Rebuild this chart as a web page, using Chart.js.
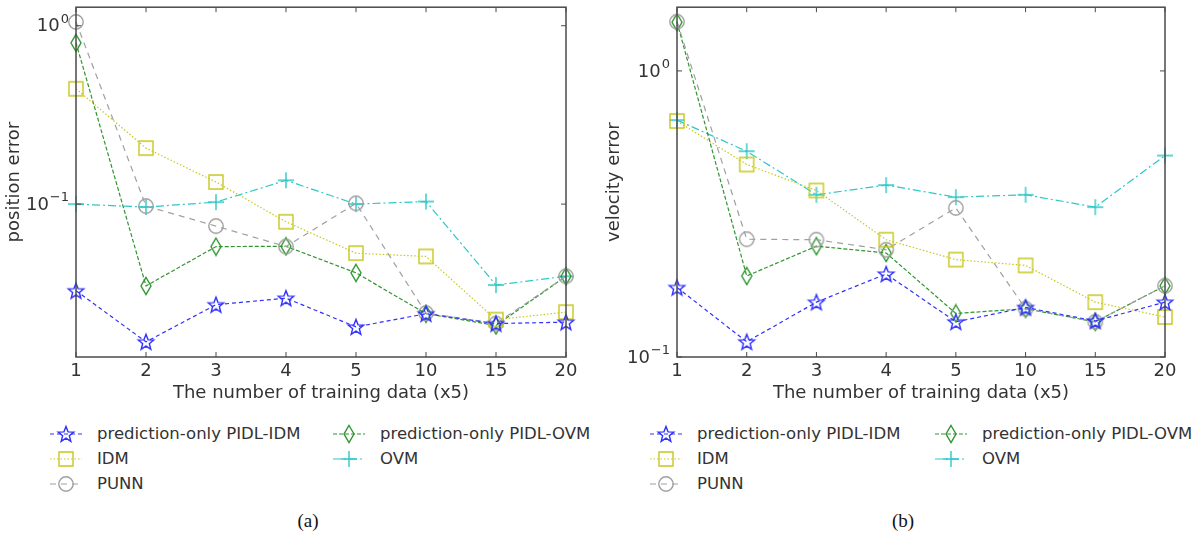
<!DOCTYPE html>
<html>
<head>
<meta charset="utf-8">
<script src="https://cdn.jsdelivr.net/npm/chart.js@4/dist/chart.umd.min.js"></script>
<style>
  body { margin: 0; background: #fff; width: 1203px; height: 549px; overflow: hidden; position: relative; font-family: "DejaVu Sans", sans-serif; }
  .panel { position: absolute; top: 0; width: 600px; height: 405px; }
  .leg { position: absolute; font-size: 16.5px; color: #333; white-space: nowrap; }
  .leg canvas { position: absolute; left: 0; top: 0; }
  .leg span { position: absolute; top: 0px; }
  .cap { position: absolute; top: 510px; width: 60px; text-align: center; font-family: "Liberation Serif", serif; font-size: 19px; color: #111; }
</style>
</head>
<body>
<div class="panel" style="left:0"><canvas id="posChart"></canvas></div>
<div class="panel" style="left:600px"><canvas id="velChart"></canvas></div>
<div id="legends"></div>
<div class="cap" style="left:278px">(a)</div>
<div class="cap" style="left:873px">(b)</div>
<script>
/* 데이터 */
var categories = ['1', '2', '3', '4', '5', '10', '15', '20'];
var seriesNames = ['prediction-only PIDL-IDM', 'IDM', 'PUNN', 'prediction-only PIDL-OVM', 'OVM'];

/* position error */
var posPidlIdm = [0.0327, 0.0169, 0.0273, 0.0297, 0.0205, 0.0243, 0.0214, 0.0218];
var posIdm     = [0.443, 0.206, 0.133, 0.0796, 0.0531, 0.0509, 0.0225, 0.0248];
var posPunn    = [1.05, 0.0975, 0.0753, 0.0578, 0.101, 0.0245, 0.0214, 0.0394];
var posPidlOvm = [0.802, 0.0348, 0.0578, 0.058, 0.0412, 0.0243, 0.0209, 0.0394];
var posOvm     = [0.1, 0.0963, 0.1026, 0.136, 0.1, 0.1034, 0.0352, 0.0394];

/* velocity error */
var velPidlIdm = [0.175, 0.113, 0.1555, 0.195, 0.1327, 0.149, 0.1337, 0.1555];
var velIdm     = [0.668, 0.471, 0.382, 0.257, 0.219, 0.209, 0.1555, 0.138];
var velPunn    = [1.486, 0.258, 0.257, 0.237, 0.332, 0.1475, 0.1327, 0.1774];
var velPidlOvm = [1.48, 0.192, 0.244, 0.231, 0.142, 0.1475, 0.1327, 0.1774];
var velOvm     = [0.673, 0.524, 0.369, 0.399, 0.362, 0.369, 0.334, 0.506];

/* 축 */
var posTicks = [0.1, 1];
var velTicks = [0.1, 1];
var posRange = [0.0139, 1.27];
var velRange = [0.1, 1.67];

/* 스타일 */
var colors = ['#3030ff', '#c8c81e', '#a0a0a0', '#2f962f', '#2ec8c8'];
var dashes = [[4, 3], [1.5, 2], [6, 5], [4, 2], [8, 3, 2, 3]];
var markers = ['star', 'square', 'circle', 'diamond', 'plus'];

function makeMarker(type, color) {
    var c = document.createElement('canvas');
    c.width = 20; c.height = 20;
    var g = c.getContext('2d');
    g.strokeStyle = color;
    g.lineWidth = 1.4;
    g.beginPath();
    if (type == 'star') {
        for (var i = 0; i < 10; i++) {
            var r = i % 2 == 0 ? 8.2 : 3.5;
            var a = -Math.PI / 2 + i * Math.PI / 5;
            var px = 10 + r * Math.cos(a), py = 10.7 + r * Math.sin(a);
            if (i == 0) g.moveTo(px, py); else g.lineTo(px, py);
        }
        g.closePath();
    } else if (type == 'square') {
        g.rect(3, 3, 14, 14);
    } else if (type == 'circle') {
        g.arc(10, 10, 7.2, 0, Math.PI * 2);
    } else if (type == 'diamond') {
        g.moveTo(10, 1.5); g.lineTo(15, 10); g.lineTo(10, 18.5); g.lineTo(5, 10); g.closePath();
    } else {
        g.moveTo(2, 10); g.lineTo(18, 10); g.moveTo(10, 2); g.lineTo(10, 18);
    }
    g.stroke();
    return c;
}

var markerImgs = markers.map(function(m, i) { return makeMarker(m, colors[i]); });

function tickExp(v) {
    var e = Math.round(Math.log10(v));
    return String(e).replace('-', '\u2212');
}

/* 박스, 안쪽 눈금, 로그 눈금 글자 */
var boxPlugin = {
    id: 'box',
    afterDraw: function(chart) {
        var ctx = chart.ctx, a = chart.chartArea;
        ctx.save();
        ctx.strokeStyle = '#4a4a4a';
        ctx.lineWidth = 1.5;
        ctx.strokeRect(a.left, a.top, a.right - a.left, a.bottom - a.top);
        ctx.lineWidth = 1;
        ctx.beginPath();
        var xs = chart.scales.x;
        for (var i = 0; i < categories.length; i++) {
            var px = xs.getPixelForValue(i);
            ctx.moveTo(px, a.bottom); ctx.lineTo(px, a.bottom - 5);
            ctx.moveTo(px, a.top); ctx.lineTo(px, a.top + 5);
        }
        var ys = chart.scales.y;
        ys.ticks.forEach(function(t) {
            var py = ys.getPixelForValue(t.value);
            ctx.moveTo(a.left, py); ctx.lineTo(a.left + 5, py);
            ctx.moveTo(a.right, py); ctx.lineTo(a.right - 5, py);
        });
        ctx.stroke();

        ctx.fillStyle = '#333';
        ctx.textBaseline = 'middle';
        ys.ticks.forEach(function(t) {
            var py = ys.getPixelForValue(t.value);
            var exp = tickExp(t.value);
            ctx.font = '13px "DejaVu Sans"';
            var ew = ctx.measureText(exp).width;
            ctx.textAlign = 'left';
            var right = a.left - 7;
            ctx.fillText(exp, right - ew, py - 6);
            ctx.font = '18px "DejaVu Sans"';
            ctx.textAlign = 'right';
            ctx.fillText('10', right - ew - 1, py + 1);
        });
        ctx.restore();
    }
};

function makeChart(id, series, ticks, range, yTitle, yWidth, padRight) {
    var datasets = series.map(function(d, i) {
        return {
            label: seriesNames[i],
            data: d,
            borderColor: colors[i],
            borderWidth: 1.2,
            borderDash: dashes[i],
            pointStyle: markerImgs[i],
            pointRadius: 6,
            tension: 0,
            fill: false,
            clip: false
        };
    });
    var ctx = document.getElementById(id).getContext('2d');
    return new Chart(ctx, {
        type: 'line',
        data: { labels: categories, datasets: datasets },
        plugins: [boxPlugin],
        options: {
            responsive: false,
            animation: false,
            devicePixelRatio: 1,
            layout: { padding: { top: 2, right: padRight, left: 0, bottom: 0 } },
            plugins: { legend: { display: false }, tooltip: { enabled: false } },
            scales: {
                x: {
                    offset: false,
                    grid: { display: false, drawTicks: false },
                    border: { display: false },
                    ticks: { color: '#333', font: { family: 'DejaVu Sans', size: 18 }, padding: 4, maxRotation: 0, autoSkip: false },
                    title: { display: true, text: 'The number of training data (x5)', color: '#333', font: { family: 'DejaVu Sans', size: 18 }, padding: { top: 0, bottom: 1 } },
                    afterFit: function(s) { s.height = 48; s.paddingLeft = 0; s.paddingRight = 0; }
                },
                y: {
                    type: 'logarithmic',
                    min: range[0],
                    max: range[1],
                    grid: { display: false, drawTicks: false },
                    border: { display: false },
                    afterBuildTicks: function(s) { s.ticks = ticks.map(function(v) { return { value: v, major: true }; }); },
                    ticks: { display: false },
                    title: { display: true, text: yTitle, color: '#333', font: { family: 'DejaVu Sans', size: 18 }, padding: { top: 4, bottom: 0 } },
                    afterFit: function(s) { s.width = yWidth; s.paddingTop = 0; s.paddingBottom = 0; }
                }
            }
        }
    });
}

document.getElementById('posChart').width = 600;
document.getElementById('posChart').height = 405;
document.getElementById('velChart').width = 600;
document.getElementById('velChart').height = 405;

makeChart('posChart', [posPidlIdm, posIdm, posPunn, posPidlOvm, posOvm], posTicks, posRange, 'position error', 76, 34);
makeChart('velChart', [velPidlIdm, velIdm, velPunn, velPidlOvm, velOvm], velTicks, velRange, 'velocity error', 77, 35);

/* 범례 */
var legendSlots = [[0, 0], [0, 1], [0, 2], [1, 0], [1, 1]];
var legends = document.getElementById('legends');
[[50, 333], [650, 935]].forEach(function(cols) {
    for (var i = 0; i < seriesNames.length; i++) {
        var slot = legendSlots[i];
        var item = document.createElement('div');
        item.className = 'leg';
        item.style.left = cols[slot[0]] + 'px';
        item.style.top = (424 + slot[1] * 25) + 'px';
        var c = document.createElement('canvas');
        c.width = 34; c.height = 20;
        var g = c.getContext('2d');
        g.strokeStyle = colors[i];
        g.lineWidth = 1.2;
        g.setLineDash(dashes[i]);
        g.beginPath(); g.moveTo(0, 10); g.lineTo(32, 10); g.stroke();
        g.drawImage(markerImgs[i], 16 - 10, 10 - 10);
        item.appendChild(c);
        var t = document.createElement('span');
        t.style.left = '47px';
        t.innerHTML = seriesNames[i];
        item.appendChild(t);
        legends.appendChild(item);
    }
});
</script>
</body>
</html>
